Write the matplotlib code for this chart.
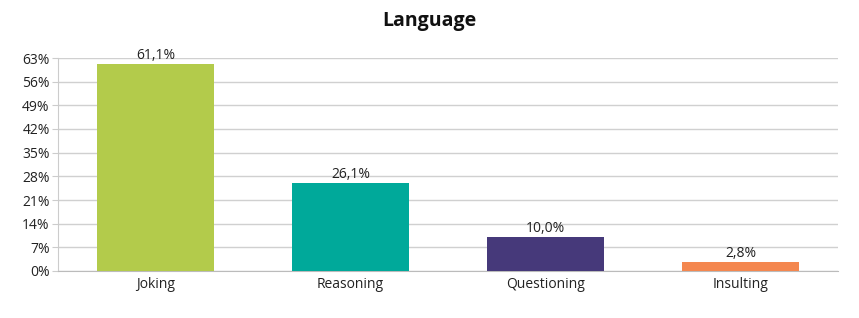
import matplotlib
matplotlib.use("Agg")
import matplotlib.pyplot as plt
from matplotlib.ticker import FixedLocator

categories = ["Joking", "Reasoning", "Questioning", "Insulting"]
values = [61.1, 26.1, 10.0, 2.8]
labels = ["61,1%", "26,1%", "10,0%", "2,8%"]
colors = ["#b3cb4b", "#00a99a", "#46397a", "#f4874f"]
yticks = [0, 7, 14, 21, 28, 35, 42, 49, 56, 63]

plt.rcParams['font.family'] = ['Open Sans', 'DejaVu Sans']

fig = plt.figure(figsize=(8.59, 3.18), dpi=100)
ax = fig.add_axes([58/859, 1-271/318, 780/859, 213/318])

x = list(range(len(categories)))
ax.bar(x, values, width=0.6, color=colors, zorder=3)
for xi, v, l in zip(x, values, labels):
    ax.text(xi, v + 0.3, l, ha='center', va='bottom', fontsize=10, color='#222222')

ax.set_xlim(-0.5, len(categories) - 0.5)
ax.set_ylim(0, 63)
ax.set_yticks(yticks)
ax.set_yticklabels([f"{t}%" for t in yticks])
ax.set_xticks(x)
ax.set_xticklabels(categories)
ax.yaxis.grid(True, color='#d0d0d0', linewidth=1, zorder=0)
ax.tick_params(axis='y', length=4, color='#cccccc', labelsize=10, labelcolor='#222222', pad=2)
ax.tick_params(axis='x', length=0, labelsize=10, labelcolor='#222222', pad=4)
for s in ['top', 'right']:
    ax.spines[s].set_visible(False)
ax.spines['left'].set_color('#cccccc')
ax.spines['bottom'].set_color('#bbbbbb')

fig.text(0.5, 1-21/318, "Language", ha='center', va='center', fontsize=14, fontweight='bold', color='#111111')

fig.savefig("out.png", dpi=100)
